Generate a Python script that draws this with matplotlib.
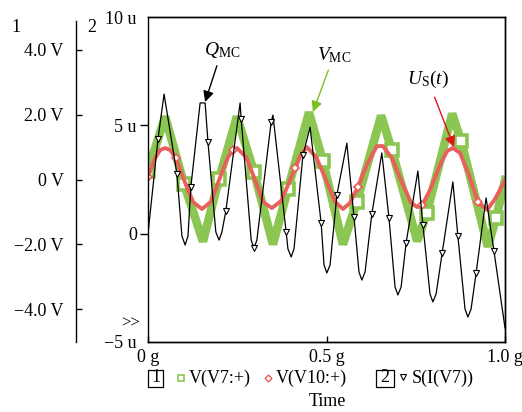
import numpy as np
import matplotlib
matplotlib.use("Agg")
import matplotlib.pyplot as plt
from matplotlib.lines import Line2D
from matplotlib.patches import Rectangle

plt.rcParams["font.family"] = ["Liberation Serif", "DejaVu Serif"]
plt.rcParams["mathtext.fontset"] = "custom"
plt.rcParams["mathtext.rm"] = "Liberation Serif"
plt.rcParams["mathtext.it"] = "Liberation Serif:italic"

# V(V7:+)  -- volts, axis 1
v7_t = [0.000, 0.048, 0.101, 0.154, 0.199, 0.249, 0.297, 0.350, 0.392, 0.451, 0.490,
        0.546, 0.585, 0.653, 0.683, 0.754, 0.781, 0.852, 0.877, 0.952, 0.975, 1.000]
v7_v = [0.27, 1.94, -0.14, -1.91, 0.02, 1.94, 0.23, -2.00, -0.29, 2.07, 0.57,
        -2.00, -0.69, 1.97, 0.91, -1.90, -1.03, 2.03, 1.19, -2.07, -1.19, -0.02]
v7_marks = [0.000, 0.101, 0.199, 0.297, 0.392, 0.490, 0.585, 0.683, 0.781, 0.877, 0.975]

# V(V10:+)  -- volts, axis 1
v10_t = [0.000, 0.020, 0.034, 0.048, 0.062, 0.078, 0.101, 0.126, 0.151, 0.176, 0.199,
         0.224, 0.238, 0.249, 0.275, 0.300, 0.322, 0.347, 0.373, 0.398, 0.412, 0.426,
         0.445, 0.471, 0.499, 0.524, 0.546, 0.566, 0.588, 0.613, 0.641, 0.658, 0.683,
         0.711, 0.737, 0.754, 0.768, 0.790, 0.818, 0.838, 0.854, 0.874, 0.899, 0.924,
         0.950, 0.972, 1.000]
v10_v = [0.08, 0.66, 0.91, 0.97, 0.91, 0.66, -0.02, -0.69, -0.91, -0.69, -0.02,
         0.69, 0.91, 0.97, 0.69, -0.02, -0.69, -0.88, -0.66, -0.02, 0.35, 0.72,
         1.00, 0.69, -0.02, -0.69, -0.91, -0.72, -0.23, 0.45, 1.03, 1.03, 0.66,
         -0.08, -0.72, -0.85, -0.79, -0.32, 0.45, 0.88, 0.97, 0.82, 0.14, -0.69,
         -0.94, -0.60, -0.02]
v10_marks = [0.000, 0.078, 0.238, 0.412, 0.588, 0.768, 0.924]

# S(I(V7))  -- axis 2 (u)
q_t = [0.000, 0.028, 0.045, 0.081, 0.095, 0.104, 0.112, 0.120, 0.146, 0.160, 0.168,
       0.190, 0.199, 0.207, 0.218, 0.258, 0.261, 0.289, 0.297, 0.305, 0.345, 0.350,
       0.387, 0.392, 0.401, 0.409, 0.434, 0.454, 0.485, 0.493, 0.501, 0.510, 0.529,
       0.557, 0.577, 0.591, 0.599, 0.608, 0.627, 0.655, 0.675, 0.692, 0.700, 0.709,
       0.723, 0.756, 0.770, 0.790, 0.798, 0.807, 0.824, 0.854, 0.868, 0.888, 0.896,
       0.905, 0.919, 0.947, 0.969, 1.000]
q_v = [0.00, 4.37, 6.45, 2.76, -0.11, -0.53, -0.11, 2.15, 6.04, 6.04, 4.23,
       0.07, -0.30, 0.07, 1.04, 6.04, 5.29, -0.30, -0.67, -0.30, 5.16, 5.48,
       0.07, -0.71, -1.08, -0.71, 3.63, 4.92, 0.49, -1.45, -1.82, -1.45, 1.78,
       4.18, 0.77, -1.78, -2.15, -1.78, 0.91, 3.73, 0.72, -2.47, -2.84, -2.47,
       -0.43, 2.89, 0.40, -2.80, -3.16, -2.80, -0.90, 2.39, -0.11, -3.49, -3.86,
       -3.49, -1.83, 1.65, -0.80, -4.36]
q_marks = [0.028, 0.081, 0.120, 0.168, 0.218, 0.261, 0.297, 0.345, 0.387, 0.434, 0.485,
           0.529, 0.577, 0.627, 0.675, 0.723, 0.770, 0.824, 0.868, 0.919, 0.969]

x_ticks = [0, 0.5, 1.0]
x_labels = ["0 g", "0.5 g", "1.0 g"]
v_ticks = [-4, -2, 0, 2, 4]
v_labels = ["\u22124.0 V", "\u22122.0 V", "0 V", "2.0 V", "4.0 V"]
q_ticks = [-5, 0, 5, 10]
q_labels = ["\u22125 u", "0", "5 u", "10 u"]

GREEN = "#8cc652"
RED = "#e8605c"
W, H = 522, 412


def fx(x):
    return x / W


def fy(y):
    return 1 - y / H


def idx(ts, marks):
    return [i for i, t in enumerate(ts) if np.any(np.isclose(t, marks))]


fig = plt.figure(figsize=(W / 100, H / 100), dpi=100)
ax = fig.add_axes([fx(148), fy(341.7), (505 - 148) / W, 324.4 / H])

# volts axis (detached, on the left)
ax.set_xlim(0, 1)
ax.set_ylim(-5, 5)
ax.spines["left"].set_position(("axes", (76 - 148) / 357))
ax.spines["left"].set_bounds(-5, 4.9)
ax.set_yticks(v_ticks)
ax.set_yticklabels(v_labels)
ax.set_xticks(x_ticks)
ax.set_xticklabels(x_labels)
ax.tick_params(axis="y", direction="in", length=4.5, width=1, pad=9, labelsize=13)
ax.tick_params(axis="x", direction="in", length=4.5, width=1, pad=5, labelsize=13)
for s in ax.spines.values():
    s.set_linewidth(1.0)

ax.plot(v7_t, v7_v, color=GREEN, lw=6.2, solid_joinstyle="bevel",
        marker="s", ms=8, mfc="white", mec=GREEN, mew=2.6,
        markevery=idx(v7_t, v7_marks), zorder=2)
ax.plot(v10_t, v10_v, color=RED, lw=2.8,
        marker="D", ms=4, mfc="white", mec=RED, mew=1.3,
        markevery=idx(v10_t, v10_marks), zorder=3)

# charge axis (frame left)
qx = ax.twinx()
qx.yaxis.tick_left()
qx.set_ylim(-5, 10)
qx.set_yticks(q_ticks)
qx.set_yticklabels(q_labels)
qx.tick_params(axis="y", direction="out", length=6, width=1, pad=2, labelsize=13)
ticks = qx.yaxis.get_major_ticks()
for t in (ticks[0], ticks[-1]):
    t.tick1line.set_visible(False)
for s in qx.spines.values():
    s.set_linewidth(1.0)

qx.plot(q_t, q_v, color="black", lw=0.9,
        marker="v", ms=4.5, mfc="white", mec="black", mew=0.8,
        markevery=idx(q_t, q_marks), zorder=4)

# callouts
ax.annotate(r"$Q_{\mathrm{MC}}$", xy=(0.160, 2.39), xytext=(0.207, 3.98),
            ha="center", va="center", fontsize=14,
            arrowprops=dict(arrowstyle="-|>", color="black", lw=1.0,
                            mutation_scale=16, shrinkA=2, shrinkB=0))
ax.annotate(r"$V_{\mathrm{MC}}$", xy=(0.462, 2.08), xytext=(0.521, 3.84),
            ha="center", va="center", fontsize=14,
            arrowprops=dict(arrowstyle="-|>", color="#7cbf24", lw=1.0,
                            mutation_scale=16, shrinkA=2, shrinkB=0))
ax.annotate(r"$U_{\mathrm{S}}(t)$", xy=(0.857, 1.0), xytext=(0.784, 3.07),
            ha="center", va="center", fontsize=14,
            arrowprops=dict(arrowstyle="-|>", color="#e0141c", lw=1.0,
                            mutation_scale=16, shrinkA=3, shrinkB=0))

# axis numbers and selection mark
fig.text(fx(16), fy(27), "1", ha="center", va="center", fontsize=13)
fig.text(fx(92), fy(27), "2", ha="center", va="center", fontsize=13)
fig.text(fx(131), fy(324), ">>", ha="center", va="center", fontsize=12)

# trace legend row
ly = 378
fig.add_artist(Rectangle((fx(148), fy(387)), 15 / W, 17 / H, transform=fig.transFigure,
                         fill=False, ec="black", lw=0.9))
fig.text(fx(155.5), fy(ly), "1", ha="center", va="center", fontsize=13)
fig.add_artist(Line2D([fx(181)], [fy(ly)], transform=fig.transFigure, marker="s", ms=4,
                      mfc="white", mec=GREEN, mew=1.2))
fig.text(fx(189), fy(ly), "V(V7:+)", ha="left", va="center", fontsize=13)
fig.add_artist(Line2D([fx(268)], [fy(ly)], transform=fig.transFigure, marker="D", ms=3.5,
                      mfc="white", mec=RED, mew=1.0))
fig.text(fx(276), fy(ly), "V(V10:+)", ha="left", va="center", fontsize=13)
fig.add_artist(Rectangle((fx(376), fy(387)), 18 / W, 17 / H, transform=fig.transFigure,
                         fill=False, ec="black", lw=0.9))
fig.text(fx(385), fy(ly), "2", ha="center", va="center", fontsize=13)
fig.add_artist(Line2D([fx(403)], [fy(ly - 1)], transform=fig.transFigure, marker="v", ms=4.5,
                      mfc="white", mec="black", mew=0.8))
fig.text(fx(412), fy(ly), "S(I(V7))", ha="left", va="center", fontsize=13)
fig.text(fx(327), fy(402), "Time", ha="center", va="center", fontsize=13)

fig.savefig("out.png", dpi=100)
